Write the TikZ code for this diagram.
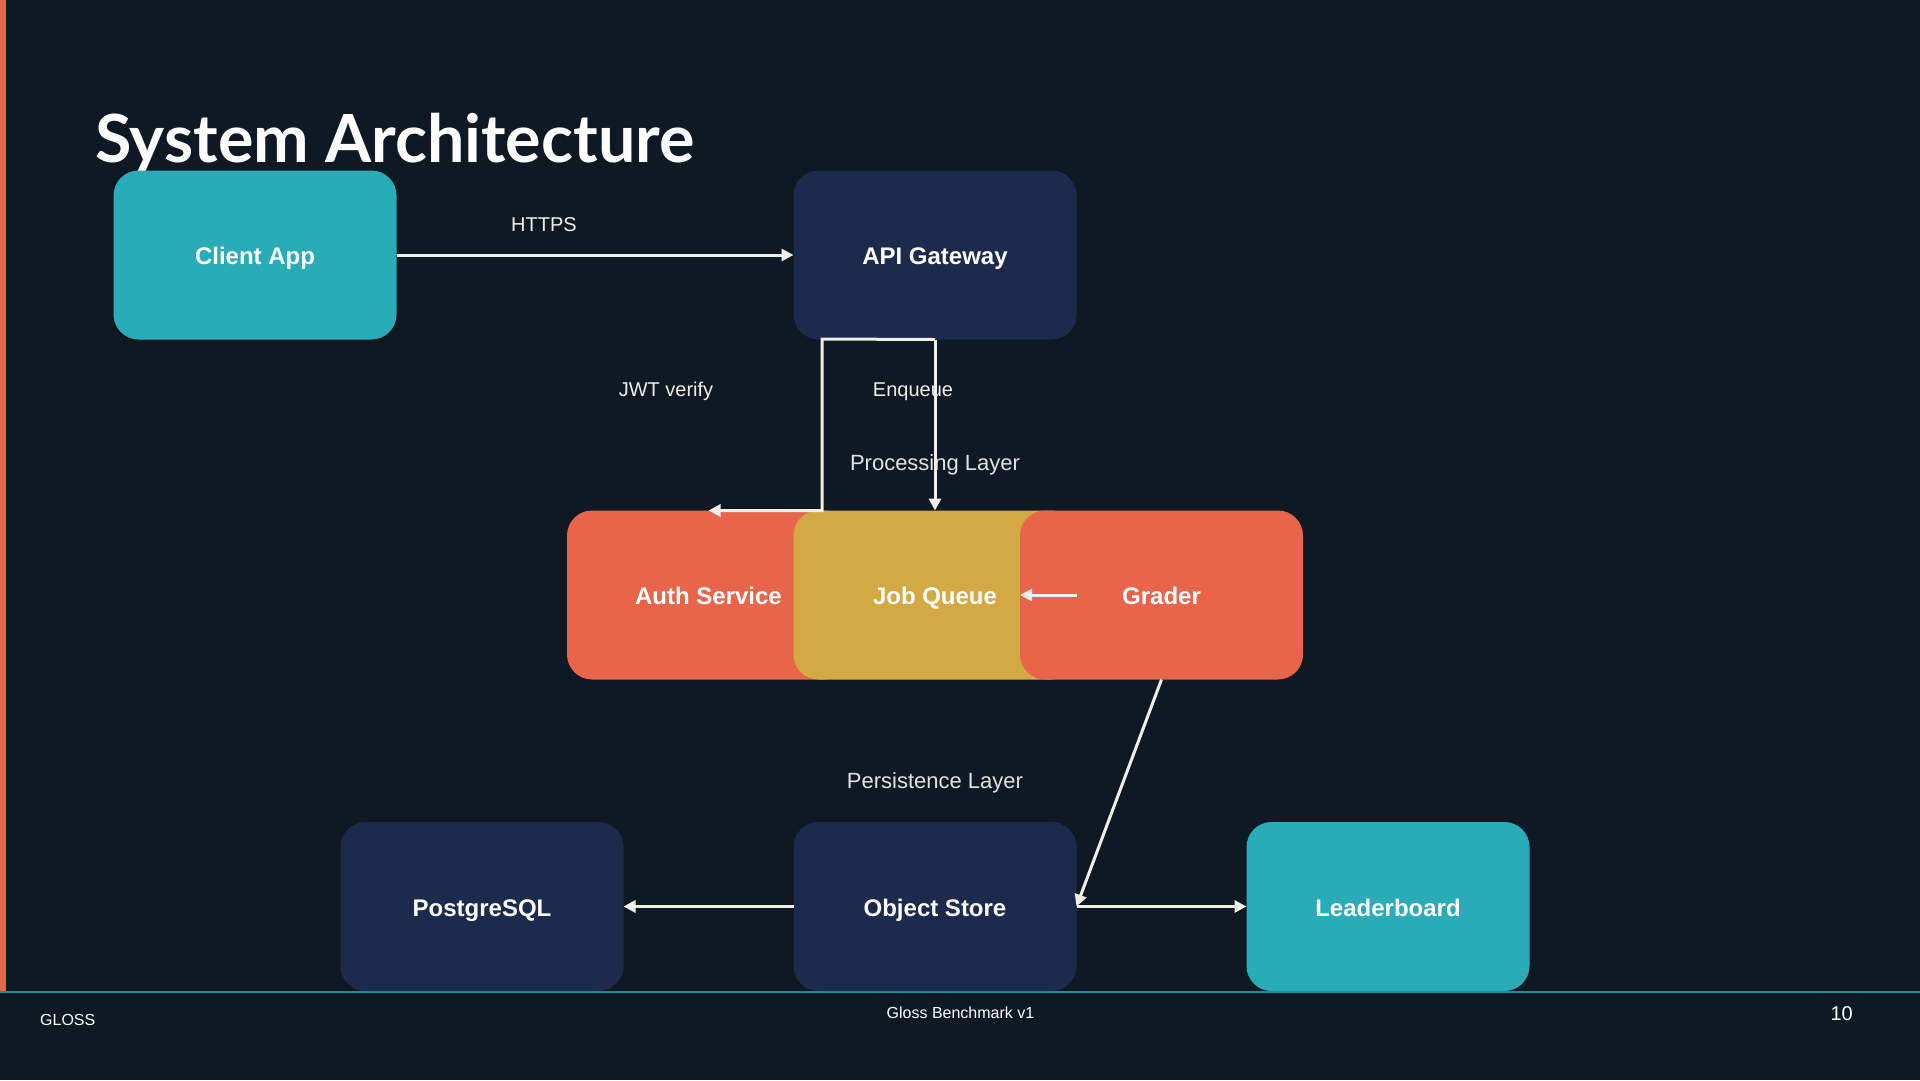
\documentclass[tikz,border=0pt]{standalone}
\usepackage{fontspec}
\setmainfont{Liberation Sans}
\newfontfamily\titlefont{Lato}
\usetikzlibrary{arrows.meta}
\definecolor{bgc}{HTML}{0F1923}
\definecolor{tealc}{HTML}{2AABB8}
\definecolor{navyc}{HTML}{1C2A4B}
\definecolor{coralc}{HTML}{E8644B}
\definecolor{goldc}{HTML}{D4A843}
\definecolor{linec}{HTML}{F0EEE8}
\definecolor{labelc}{HTML}{E2E2E2}
\definecolor{rulec}{HTML}{1E8C96}
\tikzset{
  box/.style={rectangle, rounded corners=25pt, minimum width=283pt, minimum height=169pt,
    inner sep=0pt, outer sep=0pt, text=white, text height=19.5pt, text depth=0pt,
    font=\fontsize{24}{28}\selectfont\bfseries},
  conn/.style={draw=linec, line width=3pt, -{Triangle[length=12pt,width=12pt]}},
  elabel/.style={text=linec, inner sep=0pt, anchor=base, font=\fontsize{20}{24}\selectfont},
  layerlabel/.style={text=labelc, inner sep=0pt, anchor=base, font=\fontsize{22}{26}\selectfont},
  footlabel/.style={text=white, inner sep=0pt, font=\fontsize{16}{19}\selectfont},
}
\begin{document}
\begin{tikzpicture}[x=1pt,y=-1pt]
\fill[bgc] (0,0) rectangle (1920,1080);
\useasboundingbox (0,0) rectangle (1920,1080);
% left accent bar and footer rule
\fill[coralc] (0,0) rectangle (6,992);
\draw[rulec, line width=2pt] (0,992) -- (1920,992);
% title
\node[anchor=base west, inner sep=0pt, text=white, font=\titlefont\fontsize{66.4}{78}\selectfont\bfseries] (title) at (95,162) {System Architecture};
% nodes
\node[box, fill=tealc] (client) at (255,255) {Client App};
\node[box, fill=navyc] (api) at (935,255) {API Gateway};
\node[box, fill=coralc] (auth) at (708.5,595) {Auth Service};
\node[box, fill=goldc] (jq) at (935,595) {Job Queue};
\node[box, fill=coralc] (gr) at (1161.5,595) {Grader};
\node[box, fill=navyc] (pg) at (482,906.5) {PostgreSQL};
\node[box, fill=navyc] (os) at (935,906.5) {Object Store};
\node[box, fill=tealc] (lb) at (1388,906.5) {Leaderboard};
% layer labels
\node[layerlabel] (proc) at (935,470) {Processing Layer};
\node[layerlabel] (pers) at (935,788) {Persistence Layer};
% connectors
\coordinate (jwtbend) at (822,339);
\draw[conn] (client.east) -- (api.west);
\draw[conn] (api.south) -- (jwtbend) |- (auth.north);
\draw[conn] (api.south) -- (jq.north);
\draw[conn] (jq.east) -- (gr.west);
\draw[conn] (gr.south) -- (os.east);
\draw[conn] (os.west) -- (pg.east);
\draw[conn] (os.east) -- (lb.west);
% edge labels
\node[elabel] (lhttps) at (544,231) {HTTPS};
\node[elabel] (ljwt) at (666,396) {JWT verify};
\node[elabel] (lenq) at (913,396) {Enqueue};
% footer
\node[footlabel, anchor=base west] (fleft) at (40,1025.7) {GLOSS};
\node[footlabel, anchor=base] (fmid) at (960.5,1018.5) {Gloss Benchmark v1};
\node[footlabel, anchor=base east, font=\fontsize{20}{24}\selectfont] (fright) at (1853,1020) {10};
\end{tikzpicture}
\end{document}
